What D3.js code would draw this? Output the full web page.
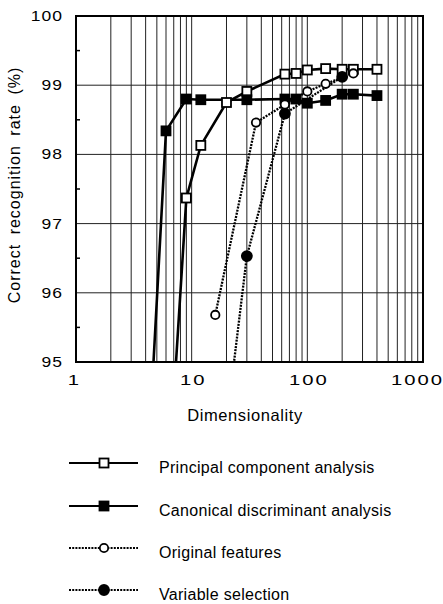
<!DOCTYPE html>
<html>
<head>
<meta charset="utf-8">
<script src="https://cdn.jsdelivr.net/npm/d3@7"></script>
<style>
  body { margin: 0; background: #fff; }
  svg { display: block; font-family: "Liberation Sans", Arial, sans-serif; }
</style>
</head>
<body>
<svg id="chart" width="443" height="604"></svg>
<script>
// ---- data ----
const seriesNames = ["Principal component analysis", "Canonical discriminant analysis", "Original features", "Variable selection"];
const pcaDims = [7, 9, 12, 20, 30, 64, 80, 100, 144, 200, 250, 400];
const pcaRate = [94.48, 97.37, 98.13, 98.75, 98.91, 99.16, 99.17, 99.22, 99.24, 99.23, 99.23, 99.23];
const cdaDims = [4, 6, 9, 12, 30, 64, 80, 100, 144, 200, 250, 400];
const cdaRate = [92.9, 98.34, 98.80, 98.79, 98.79, 98.80, 98.80, 98.74, 98.78, 98.87, 98.87, 98.85];
const ofDims = [16, 36, 64, 100, 144, 250];
const ofRate = [95.68, 98.46, 98.72, 98.91, 99.02, 99.17];
const vsDims = [20, 30, 64, 200];
const vsRate = [94.1, 96.53, 98.59, 99.12];
const xTicks = [1, 10, 100, 1000];
const yTicks = [95, 96, 97, 98, 99, 100];
const yMinorTicks = [95.5, 96.5, 97.5, 98.5, 99.5];

const series = [
  { name: seriesNames[0], dims: pcaDims, rate: pcaRate, marker: "square", filled: false, dotted: false },
  { name: seriesNames[1], dims: cdaDims, rate: cdaRate, marker: "square", filled: true, dotted: false },
  { name: seriesNames[2], dims: ofDims, rate: ofRate, marker: "circle", filled: false, dotted: true },
  { name: seriesNames[3], dims: vsDims, rate: vsRate, marker: "circle", filled: true, dotted: true }
];

// ---- layout ----
const svg = d3.select("#chart");
const L = 76, T = 16, W = 347, H = 346;
const x = d3.scaleLog().domain([1, 1000]).range([L, L + W]);
const y = d3.scaleLinear().domain([95, 100]).range([T + H, T]);

svg.append("defs").append("clipPath").attr("id", "plotclip")
  .append("rect").attr("x", L).attr("y", T).attr("width", W).attr("height", H);

// vertical grid lines
const vGrid = [];
for (let dec = 1; dec < 1000; dec *= 10) for (let k = 1; k <= 9; k++) if (dec * k > 1) vGrid.push(dec * k);
svg.append("g").selectAll("line").data(vGrid).join("line")
  .attr("x1", d => x(d)).attr("x2", d => x(d))
  .attr("y1", T).attr("y2", T + H)
  .attr("stroke", "#222").attr("stroke-width", 1);

// horizontal grid lines
svg.append("g").selectAll("line").data(yTicks.slice(1, -1)).join("line")
  .attr("x1", L).attr("x2", L + W)
  .attr("y1", d => y(d)).attr("y2", d => y(d))
  .attr("stroke", "#222").attr("stroke-width", 1);

// minor ticks on left axis
svg.append("g").selectAll("line").data(yMinorTicks).join("line")
  .attr("x1", L).attr("x2", L + 4)
  .attr("y1", d => y(d)).attr("y2", d => y(d))
  .attr("stroke", "#000").attr("stroke-width", 1.5);

// frame
svg.append("rect").attr("x", L).attr("y", T).attr("width", W).attr("height", H)
  .attr("fill", "none").attr("stroke", "#000").attr("stroke-width", 2);

// axes labels (via d3 axes, domain and ticks hidden); glyphs widened like the original print
const xAxis = d3.axisBottom(x).tickValues(xTicks).tickFormat(d3.format("d")).tickSize(0).tickPadding(0);
const gx = svg.append("g").attr("transform", `translate(0,${T + H})`).call(xAxis);
gx.select(".domain").remove();
gx.selectAll("text")
  .attr("font-size", 15).attr("font-family", "Liberation Sans, Arial, sans-serif")
  .attr("letter-spacing", 1.5).attr("fill", "#000")
  .attr("y", 0).attr("dy", 0)
  .attr("transform", d => `translate(${d === 1 ? -2 : (d === 1000 ? -6 : 1)},23) scale(1.35,1)`);

const yAxis = d3.axisLeft(y).tickValues(yTicks).tickFormat(d3.format("d")).tickSize(0).tickPadding(0);
const gy = svg.append("g").attr("transform", `translate(${L},0)`).call(yAxis);
gy.select(".domain").remove();
gy.selectAll("text")
  .attr("font-size", 14).attr("font-family", "Liberation Sans, Arial, sans-serif")
  .attr("letter-spacing", 0.8).attr("fill", "#000")
  .attr("x", 0)
  .attr("transform", "translate(-13,0) scale(1.25,1)");

// axis titles
svg.append("text").attr("x", 245).attr("y", 421).attr("text-anchor", "middle")
  .attr("font-size", 16.5).attr("letter-spacing", 0.6).text("Dimensionality");
svg.append("text").attr("transform", "translate(20,185) rotate(-90)").attr("text-anchor", "middle")
  .attr("font-size", 16).attr("letter-spacing", 1.0).attr("word-spacing", 4).text("Correct recognition rate (%)");

// lines
const plot = svg.append("g").attr("clip-path", "url(#plotclip)");
const line = d3.line().x(d => x(d[0])).y(d => y(d[1]));

function drawMarker(g, s, cx, cy) {
  if (s.marker === "square") {
    g.append("rect").attr("x", cx - 4.5).attr("y", cy - 4.5).attr("width", 9).attr("height", 9)
      .attr("fill", s.filled ? "#000" : "#fff").attr("stroke", "#000").attr("stroke-width", 1.8);
  } else {
    g.append("circle").attr("cx", cx).attr("cy", cy).attr("r", s.filled ? 5 : 4.2)
      .attr("fill", s.filled ? "#000" : "#fff").attr("stroke", "#000").attr("stroke-width", 1.8);
  }
}

series.forEach(s => {
  const pts = s.dims.map((d, i) => [d, s.rate[i]]);
  plot.append("path").attr("d", line(pts)).attr("fill", "none").attr("stroke", "#000")
    .attr("stroke-width", s.dotted ? 2.3 : 2.6)
    .attr("stroke-dasharray", s.dotted ? "2,1.2" : null);
});
series.forEach(s => {
  const g = plot.append("g");
  s.dims.forEach((d, i) => { if (s.rate[i] >= 95) drawMarker(g, s, x(d), y(s.rate[i])); });
});

// legend
const legY = [463, 506, 548, 590];
series.forEach((s, i) => {
  const g = svg.append("g");
  g.append("line").attr("x1", 69).attr("x2", 138).attr("y1", legY[i]).attr("y2", legY[i])
    .attr("stroke", "#000").attr("stroke-width", 2.2)
    .attr("stroke-dasharray", s.dotted ? "2,1.2" : null);
  drawMarker(g, s, 104, legY[i]);
  g.append("text").attr("x", 159).attr("y", legY[i] + 10)
    .attr("font-size", 16).attr("letter-spacing", 0.3).text(s.name);
});
</script>
</body>
</html>
